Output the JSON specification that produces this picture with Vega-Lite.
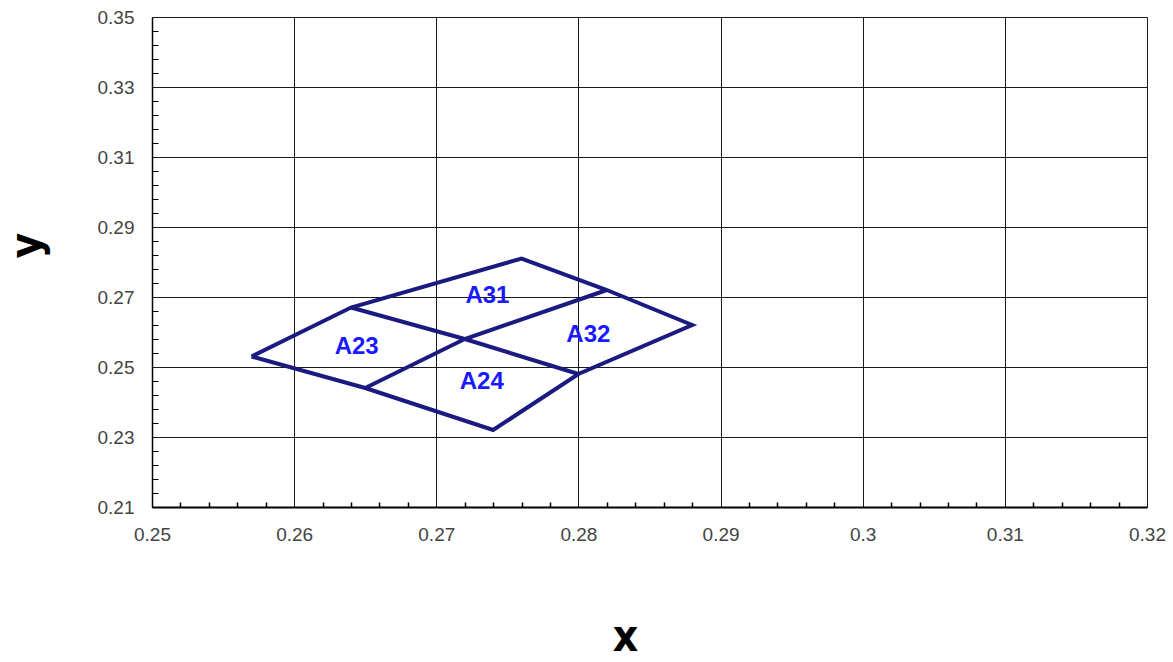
{
  "$schema": "https://vega.github.io/schema/vega-lite/v6.json",
  "width": 995,
  "height": 490,
  "autosize": "none",
  "padding": {"left": 152, "top": 17, "right": 26, "bottom": 155},
  "background": "white",
  "config": {"view": {"stroke": null}},
  "resolve": {"axis": {"x": "independent", "y": "independent"}},
  "layer": [
    {
      "data": {"values": [
        {"seg": "outer", "ord": 1, "x": 0.257, "y": 0.253},
        {"seg": "outer", "ord": 2, "x": 0.264, "y": 0.267},
        {"seg": "outer", "ord": 3, "x": 0.276, "y": 0.281},
        {"seg": "outer", "ord": 4, "x": 0.282, "y": 0.272},
        {"seg": "outer", "ord": 5, "x": 0.288, "y": 0.262},
        {"seg": "outer", "ord": 6, "x": 0.280, "y": 0.248},
        {"seg": "outer", "ord": 7, "x": 0.274, "y": 0.232},
        {"seg": "outer", "ord": 8, "x": 0.265, "y": 0.244},
        {"seg": "outer", "ord": 9, "x": 0.257, "y": 0.253},
        {"seg": "inner1", "ord": 1, "x": 0.264, "y": 0.267},
        {"seg": "inner1", "ord": 2, "x": 0.272, "y": 0.258},
        {"seg": "inner1", "ord": 3, "x": 0.280, "y": 0.248},
        {"seg": "inner2", "ord": 1, "x": 0.265, "y": 0.244},
        {"seg": "inner2", "ord": 2, "x": 0.272, "y": 0.258},
        {"seg": "inner2", "ord": 3, "x": 0.282, "y": 0.272}
      ]},
      "mark": {"type": "line", "color": "#1a1a80", "strokeWidth": 4, "strokeJoin": "miter"},
      "encoding": {
        "x": {"field": "x", "type": "quantitative",
          "scale": {"domain": [0.25, 0.32], "nice": false, "zero": false},
          "axis": {"orient": "bottom", "values": [0.25, 0.26, 0.27, 0.28, 0.29, 0.3, 0.31, 0.32],
            "grid": true, "gridColor": "#1a1a1a", "gridWidth": 1, "gridOpacity": 1,
            "ticks": false, "domainColor": "#000000", "domainWidth": 2,
            "labelFont": "Liberation Sans", "labelFontSize": 19, "labelColor": "#444444", "labelPadding": 18,
            "labelFlush": false, "labelOverlap": false, "format": "",
            "title": "x", "titleFont": "DejaVu Sans Condensed", "titleFontSize": 44, "titleFontWeight": "bold",
            "titleColor": "#000000", "titleX": 473, "titleY": 143, "titleAlign": "center", "titleBaseline": "alphabetic"}},
        "y": {"field": "y", "type": "quantitative",
          "scale": {"domain": [0.21, 0.35], "nice": false, "zero": false},
          "axis": {"orient": "left", "values": [0.21, 0.23, 0.25, 0.27, 0.29, 0.31, 0.33, 0.35],
            "grid": true, "gridColor": "#1a1a1a", "gridWidth": 1, "gridOpacity": 1,
            "ticks": false, "domainColor": "#000000", "domainWidth": 1.5,
            "labelFont": "Liberation Sans", "labelFontSize": 19, "labelColor": "#444444", "labelPadding": 18,
            "labelFlush": false, "labelOverlap": false, "format": "",
            "title": "y", "titleFont": "DejaVu Sans Condensed", "titleFontSize": 44, "titleFontWeight": "bold",
            "titleColor": "#000000", "titleAngle": -90, "titleX": -112, "titleY": 228, "titleAlign": "center", "titleBaseline": "alphabetic"}},
        "detail": {"field": "seg"},
        "order": {"field": "ord", "type": "quantitative"}
      }
    },
    {
      "data": {"values": [
        {"label": "A31", "x": 0.2736, "y": 0.2703},
        {"label": "A32", "x": 0.2807, "y": 0.2591},
        {"label": "A23", "x": 0.2644, "y": 0.2557},
        {"label": "A24", "x": 0.2732, "y": 0.2457}
      ]},
      "mark": {"type": "text", "color": "#1a1aff", "font": "Liberation Sans", "fontSize": 24, "fontWeight": "bold", "align": "center", "baseline": "middle"},
      "encoding": {
        "x": {"field": "x", "type": "quantitative",
          "scale": {"domain": [0.25, 0.32], "nice": false, "zero": false},
          "axis": {"orient": "bottom", "values": [0.252, 0.254, 0.256, 0.258, 0.262, 0.264, 0.266, 0.268, 0.272, 0.274, 0.276, 0.278, 0.282, 0.284, 0.286, 0.288, 0.292, 0.294, 0.296, 0.298, 0.302, 0.304, 0.306, 0.308, 0.312, 0.314, 0.316, 0.318],
            "labels": false, "domain": false, "grid": false, "title": null,
            "ticks": true, "tickSize": -5, "tickColor": "#000000", "tickWidth": 1.5}},
        "y": {"field": "y", "type": "quantitative",
          "scale": {"domain": [0.21, 0.35], "nice": false, "zero": false},
          "axis": {"orient": "left", "values": [0.214, 0.218, 0.222, 0.226, 0.234, 0.238, 0.242, 0.246, 0.254, 0.258, 0.262, 0.266, 0.274, 0.278, 0.282, 0.286, 0.294, 0.298, 0.302, 0.306, 0.314, 0.318, 0.322, 0.326, 0.334, 0.338, 0.342, 0.346],
            "labels": false, "domain": false, "grid": false, "title": null,
            "ticks": true, "tickSize": -6, "tickColor": "#000000", "tickWidth": 1}},
        "text": {"field": "label"}
      }
    }
  ]
}
